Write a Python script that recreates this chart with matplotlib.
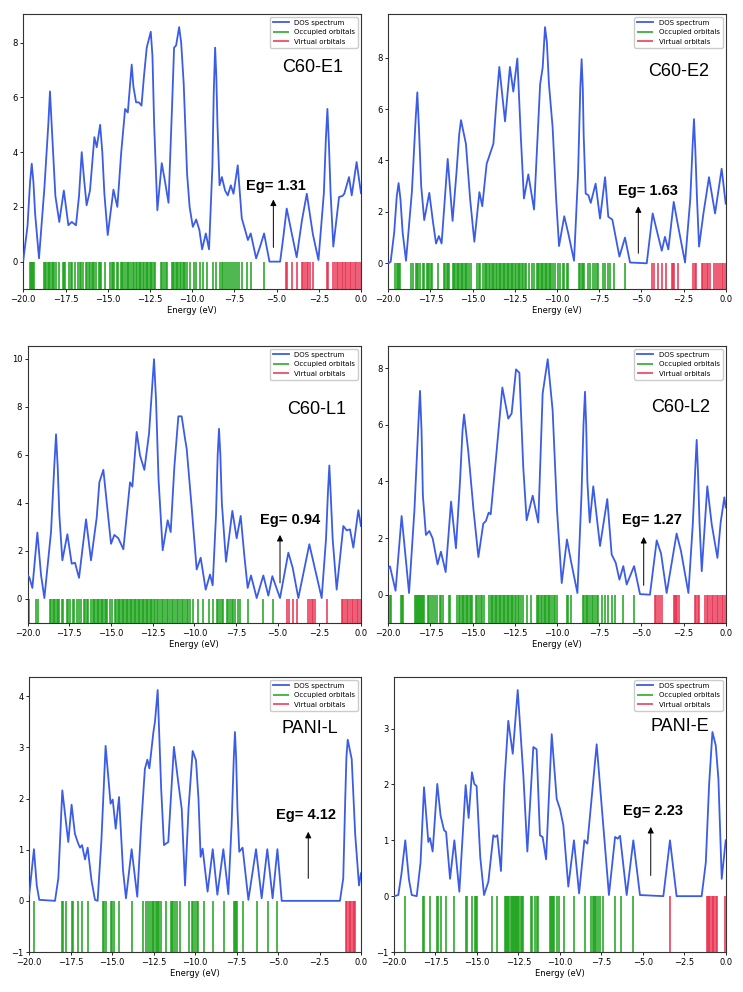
import matplotlib
matplotlib.use('Agg')
import matplotlib.pyplot as plt

# ---------------- data ----------------
# Panel C60-E1
e1_x = [-20.0, -19.75, -19.6, -19.5, -19.4, -19.3, -19.07, -18.75, -18.52, -18.42,
        -18.32, -18.1, -17.87, -17.6, -17.33, -17.13, -16.88, -16.7, -16.54, -16.4,
        -16.25, -16.05, -15.79, -15.65, -15.45, -15.32, -15.2, -15.0, -14.66, -14.43,
        -14.2, -13.97, -13.81, -13.66, -13.58, -13.48, -13.32, -13.15, -13.0, -12.85,
        -12.69, -12.45, -12.35, -12.25, -12.06, -11.8, -11.6, -11.4, -11.2, -11.07,
        -10.95, -10.77, -10.65, -10.5, -10.3, -10.15, -9.96, -9.76, -9.57, -9.41,
        -9.19, -9.0, -8.8, -8.72, -8.64, -8.57, -8.5, -8.38, -8.24, -8.05,
        -7.89, -7.71, -7.55, -7.3, -7.06, -6.86, -6.7, -6.53, -6.21, -5.95,
        -5.74, -5.42, -4.79, -4.6, -4.4, -4.14, -3.81, -3.5, -3.21, -2.85,
        -2.52, -2.2, -2.08, -1.99, -1.9, -1.8, -1.64, -1.3, -1.1, -0.99,
        -0.71, -0.55, -0.26, 0.0]
e1_y = [0.05, 1.3, 2.9, 3.58, 2.9, 1.75, 0.12, 2.7, 5.0, 6.22,
        5.0, 2.4, 1.45, 2.6, 1.33, 1.45, 1.33, 2.4, 4.0, 3.0,
        2.06, 2.6, 4.55, 4.18, 5.0, 4.0, 2.5, 0.97, 2.63, 2.0,
        4.0, 5.58, 5.45, 6.6, 7.2, 6.4, 5.82, 5.82, 5.7, 6.8,
        7.82, 8.4, 7.5, 5.0, 1.88, 3.6, 2.9, 2.15, 5.5, 7.82,
        7.9, 8.57, 8.0, 6.5, 3.2, 2.0, 1.27, 1.54, 1.15, 0.45,
        1.03, 0.45, 3.5, 6.2, 7.82, 6.8, 5.0, 2.79, 3.09, 2.6,
        2.42, 2.79, 2.48, 3.52, 1.58, 1.15, 0.79, 1.03, 0.12, 0.6,
        1.03, 0.0, 0.0, 0.9, 1.94, 1.15, 0.16, 1.5, 2.48, 1.0,
        0.06, 2.5, 4.5, 5.58, 4.3, 2.5, 0.55, 2.36, 2.4, 2.48,
        3.09, 2.42, 3.64, 2.5]
e1_occ = [-19.6, -19.55, -19.49, -19.43, -19.37, -18.79, -18.72, -18.64, -18.56, -18.48, -18.4, -18.32, -18.24,
          -18.16, -18.08, -17.9, -17.67, -17.59, -17.51, -17.31, -17.17, -17.09, -16.96, -16.78, -16.64, -16.56,
          -16.48, -16.26, -16.21, -16.13, -16.05, -15.95, -15.87, -15.79, -15.71, -15.53, -15.45, -15.4, -15.14,
          -14.84, -14.76, -14.68, -14.6, -14.47, -14.39, -14.23, -14.15, -14.07, -13.95, -13.87, -13.79, -13.72,
          -13.6, -13.52, -13.44, -13.32, -13.24, -13.16, -13.08, -13.0, -12.92, -12.84, -12.76, -12.68, -12.6,
          -12.52, -12.44, -12.36, -12.28, -12.21, -11.86, -11.78, -11.66, -11.56, -11.46, -11.21, -11.13, -11.05,
          -10.97, -10.89, -10.81, -10.73, -10.65, -10.57, -10.5, -10.42, -10.28, -10.12, -9.92, -9.76, -9.53,
          -9.37, -9.13, -8.74, -8.58, -8.38, -8.24, -8.15, -8.03, -7.91, -7.81, -7.71, -7.59, -7.48, -7.36, -7.2,
          -7.04, -6.77, -6.53, -5.72]
e1_vir = [-4.46, -4.36, -4.1, -3.81, -3.51, -3.41, -3.31, -3.21, -3.12, -3.02, -2.82, -2.03, -1.93, -1.64,
          -1.54, -1.44, -1.35, -1.25, -1.15, -1.05, -0.96, -0.86, -0.76, -0.66, -0.57, -0.47, -0.37, -0.27, -0.17,
          -0.08]

# Panel C60-E2
e2_x = [-20.0, -19.86, -19.65, -19.5, -19.39, -19.28, -19.15, -18.95, -18.6, -18.38,
        -18.28, -18.18, -18.05, -17.87, -17.57, -17.35, -17.17, -17.0, -16.84, -16.65,
        -16.48, -16.19, -15.95, -15.8, -15.69, -15.4, -15.15, -14.9, -14.6, -14.43,
        -14.17, -13.77, -13.6, -13.42, -13.08, -12.79, -12.59, -12.35, -12.15, -11.96,
        -11.7, -11.36, -11.0, -10.85, -10.71, -10.6, -10.48, -10.26, -10.05, -9.88,
        -9.57, -9.33, -8.99, -8.75, -8.62, -8.54, -8.47, -8.42, -8.3, -8.14,
        -8.0, -7.71, -7.45, -7.15, -6.96, -6.72, -6.3, -5.97, -5.67, -4.68,
        -4.33, -4.09, -3.79, -3.6, -3.4, -3.08, -2.85, -2.41, -2.1, -1.96,
        -1.88, -1.8, -1.7, -1.58, -1.32, -0.99, -0.63, -0.24, 0.0]
e2_y = [0.0, 0.06, 1.2, 2.6, 3.12, 2.5, 1.2, 0.1, 2.8, 5.6,
        6.65, 5.2, 3.0, 1.68, 2.74, 1.6, 0.77, 1.06, 0.77, 2.5,
        4.06, 1.65, 3.6, 5.0, 5.57, 4.65, 2.5, 0.84, 2.77, 2.22,
        3.87, 4.65, 6.2, 7.64, 5.52, 7.64, 6.68, 7.97, 5.0, 2.52,
        3.46, 2.09, 6.97, 7.61, 9.19, 8.6, 7.0, 5.29, 2.5, 0.67,
        1.83, 1.16, 0.1, 3.5, 6.8, 7.94, 6.8, 5.0, 2.71, 2.65,
        2.35, 3.1, 1.74, 3.35, 1.81, 1.7, 0.26, 1.0, 0.03, 0.0,
        1.94, 1.29, 0.49, 1.03, 0.54, 2.39, 1.55, 0.03, 2.5, 4.6,
        5.61, 4.4, 2.5, 0.65, 1.94, 3.35, 1.94, 3.68, 2.32]
e2_occ = [-19.58, -19.51, -19.43, -19.35, -19.29, -18.64, -18.56, -18.38, -18.3, -18.22, -18.14, -17.96, -17.89,
          -17.73, -17.65, -17.57, -17.49, -17.41, -17.04, -16.7, -16.62, -16.54, -16.46, -16.38, -16.19, -16.11,
          -16.03, -15.95, -15.87, -15.79, -15.71, -15.63, -15.55, -15.47, -15.39, -15.31, -15.24, -15.08, -14.72,
          -14.64, -14.57, -14.37, -14.29, -14.21, -14.13, -14.05, -13.97, -13.87, -13.79, -13.72, -13.62, -13.54,
          -13.46, -13.38, -13.3, -13.22, -13.14, -13.06, -12.98, -12.9, -12.82, -12.74, -12.66, -12.58, -12.5,
          -12.42, -12.34, -12.26, -12.18, -12.09, -12.0, -11.92, -11.84, -11.64, -11.46, -11.38, -11.21, -11.13,
          -11.05, -10.97, -10.89, -10.81, -10.73, -10.65, -10.57, -10.49, -10.41, -10.33, -10.25, -10.12, -9.92,
          -9.82, -9.66, -9.57, -9.43, -9.33, -8.7, -8.62, -8.54, -8.46, -8.38, -8.14, -8.04, -7.85, -7.75, -7.65,
          -7.55, -7.25, -7.15, -6.96, -6.86, -6.6, -5.97]
e2_vir = [-4.39, -4.27, -4.03, -3.79, -3.56, -3.2, -3.12, -3.04, -2.81, -1.92, -1.84, -1.76, -1.42, -1.32, -1.23,
          -1.13, -1.03, -0.93, -0.67, -0.55, -0.43, -0.34, -0.24, -0.14, -0.04]

# Panel C60-L1
l1_x = [-20.0, -19.9, -19.72, -19.42, -19.2, -19.0, -18.6, -18.4, -18.3, -18.2,
        -18.1, -17.92, -17.62, -17.36, -17.16, -16.92, -16.5, -16.2, -15.86, -15.7,
        -15.46, -15.0, -14.8, -14.56, -14.26, -13.86, -13.72, -13.46, -13.26, -13.0,
        -12.72, -12.42, -12.3, -12.15, -11.9, -11.6, -11.42, -11.2, -10.96, -10.76,
        -10.56, -10.46, -10.16, -9.86, -9.62, -9.32, -9.06, -8.9, -8.7, -8.6,
        -8.52, -8.44, -8.35, -8.1, -7.72, -7.46, -7.22, -7.0, -6.8, -6.6,
        -6.26, -5.86, -5.56, -5.32, -4.86, -4.36, -4.1, -3.76, -3.1, -2.36,
        -2.1, -1.98, -1.9, -1.82, -1.7, -1.46, -1.06, -0.86, -0.66, -0.46,
        -0.16, 0.0]
l1_y = [0.99, 0.9, 0.46, 2.77, 1.0, 0.04, 2.8, 5.6, 6.86, 5.5,
        3.5, 1.61, 2.7, 1.47, 1.51, 0.88, 3.32, 1.61, 3.39, 4.86,
        5.38, 2.3, 2.67, 2.53, 2.07, 4.86, 4.68, 6.96, 5.98, 5.38,
        6.89, 9.99, 8.3, 5.0, 2.03, 3.28, 2.79, 5.5, 7.61, 7.61,
        6.68, 6.26, 3.81, 1.23, 1.72, 0.39, 1.02, 0.57, 3.5, 6.0,
        7.09, 6.0, 4.0, 1.55, 3.67, 2.53, 3.46, 1.8, 0.46, 0.98,
        0.04, 0.98, 0.14, 0.95, 0.04, 1.93, 1.3, 0.04, 2.28, 0.04,
        2.5, 4.5, 5.56, 4.4, 2.5, 0.39, 3.04, 2.86, 2.9, 2.14,
        3.7, 3.04]
l1_occ = [-19.92, -19.5, -19.4, -18.66, -18.58, -18.5, -18.42, -18.34, -18.26, -18.18, -18.1, -17.96, -17.86,
          -17.66, -17.56, -17.46, -17.3, -17.22, -17.06, -16.9, -16.82, -16.62, -16.54, -16.46, -16.38, -16.22,
          -16.1, -16.02, -15.94, -15.86, -15.78, -15.7, -15.62, -15.54, -15.46, -15.38, -15.3, -15.22, -15.06,
          -14.96, -14.76, -14.68, -14.6, -14.52, -14.44, -14.36, -14.28, -14.2, -14.12, -14.04, -13.96, -13.88,
          -13.8, -13.72, -13.64, -13.56, -13.48, -13.4, -13.32, -13.24, -13.16, -13.08, -13.0, -12.92, -12.84,
          -12.76, -12.68, -12.6, -12.52, -12.44, -12.36, -12.26, -12.16, -12.06, -11.96, -11.86, -11.76, -11.66,
          -11.56, -11.46, -11.36, -11.26, -11.16, -11.06, -10.96, -10.86, -10.76, -10.66, -10.56, -10.46, -10.36,
          -10.26, -10.06, -9.76, -9.5, -9.1, -8.86, -8.66, -8.56, -8.46, -8.36, -8.26, -8.06, -7.96, -7.86,
          -7.76, -7.66, -7.56, -7.36, -7.26, -6.76, -5.86, -5.3]
l1_vir = [-4.42, -4.34, -4.06, -3.86, -3.16, -3.06, -2.96, -2.86, -2.76, -2.06, -1.16, -1.06, -0.96, -0.86, -0.76,
          -0.66, -0.56, -0.46, -0.36, -0.26, -0.16, -0.06]

# Panel C60-L2
l2_x = [-20.0, -19.9, -19.57, -19.21, -18.77, -18.45, -18.22, -18.12, -18.03, -17.95,
        -17.77, -17.57, -17.37, -17.08, -16.88, -16.6, -16.28, -15.99, -15.75, -15.6,
        -15.51, -15.26, -14.95, -14.66, -14.37, -14.21, -14.05, -13.93, -13.62, -13.24,
        -12.89, -12.69, -12.43, -12.23, -12.0, -11.8, -11.44, -11.11, -10.85, -10.55,
        -10.26, -10.0, -9.72, -9.41, -9.17, -8.79, -8.55, -8.43, -8.34, -8.27,
        -8.2, -8.06, -7.85, -7.45, -7.02, -6.76, -6.52, -6.3, -6.07, -5.87,
        -5.43, -5.08, -4.49, -4.09, -3.83, -3.5, -2.91, -2.65, -2.21, -1.95,
        -1.8, -1.72, -1.64, -1.55, -1.42, -1.09, -0.83, -0.49, -0.3, -0.08,
        0.0]
l2_y = [0.92, 1.0, 0.14, 2.78, 0.06, 3.0, 6.0, 7.2, 5.8, 3.5,
        2.11, 2.25, 1.99, 1.07, 1.52, 0.8, 3.29, 1.64, 4.0, 5.8,
        6.37, 5.07, 3.0, 1.33, 2.51, 2.61, 2.9, 2.84, 4.8, 7.32,
        6.22, 6.4, 7.96, 7.84, 4.5, 2.63, 3.5, 2.55, 7.11, 8.32,
        6.52, 3.0, 0.41, 1.95, 1.18, 0.06, 3.5, 6.0, 7.17, 6.0,
        4.0, 2.55, 3.83, 1.72, 3.38, 1.42, 1.13, 0.53, 1.01, 0.36,
        1.01, 0.02, 0.0, 1.92, 1.45, 0.06, 2.16, 1.54, 0.06, 2.5,
        4.5, 5.47, 4.3, 2.5, 0.83, 3.83, 2.49, 1.3, 2.55, 3.44,
        3.08]
l2_occ = [-19.9, -19.86, -19.25, -19.19, -19.13, -18.4, -18.34, -18.28, -18.22, -18.16, -18.1, -18.04, -17.98,
          -17.92, -17.86, -17.65, -17.57, -17.49, -17.33, -17.25, -17.13, -16.93, -16.85, -16.77, -16.43, -16.33,
          -15.9, -15.82, -15.74, -15.66, -15.58, -15.5, -15.42, -15.34, -15.26, -15.18, -15.1, -15.02, -14.82,
          -14.72, -14.62, -14.52, -14.42, -14.32, -14.02, -13.94, -13.86, -13.78, -13.7, -13.62, -13.54, -13.46,
          -13.38, -13.3, -13.22, -13.14, -13.06, -12.98, -12.9, -12.82, -12.74, -12.66, -12.58, -12.5, -12.42,
          -12.34, -12.26, -12.16, -11.99, -11.8, -11.56, -11.2, -11.12, -11.04, -10.96, -10.88, -10.8, -10.72,
          -10.64, -10.56, -10.48, -10.4, -10.32, -10.2, -10.12, -10.02, -9.43, -9.33, -9.17, -8.44, -8.38, -8.3,
          -8.22, -8.14, -8.04, -7.94, -7.85, -7.75, -7.65, -7.55, -7.35, -7.15, -6.96, -6.76, -6.56, -6.07, -5.41]
l2_vir = [-4.19, -4.11, -3.99, -3.87, -3.79, -3.06, -3.0, -2.92, -2.86, -2.77, -1.82, -1.74, -1.66, -1.58, -1.23,
          -1.13, -1.03, -0.91, -0.83, -0.73, -0.63, -0.53, -0.43, -0.34, -0.24, -0.14, -0.04]

# Panel PANI-L
pl_x = [-20.0, -19.72, -19.55, -19.4, -18.45, -18.25, -18.01, -17.65, -17.45, -17.25,
        -17.05, -16.94, -16.82, -16.64, -16.48, -16.25, -16.04, -15.88, -15.65, -15.4,
        -15.1, -14.97, -14.79, -14.59, -14.35, -14.17, -13.83, -13.49, -13.25, -13.03,
        -12.88, -12.76, -12.52, -12.42, -12.26, -12.05, -11.88, -11.62, -11.28, -11.02,
        -10.81, -10.61, -10.4, -10.15, -9.95, -9.8, -9.67, -9.55, -9.25, -8.94,
        -8.66, -8.3, -8.0, -7.8, -7.67, -7.6, -7.53, -7.45, -7.34, -7.14,
        -6.79, -6.33, -5.99, -5.65, -5.33, -5.04, -4.78, -1.27, -1.07, -0.95,
        -0.88, -0.8, -0.56, -0.35, -0.12, 0.0]
pl_y = [0.13, 1.01, 0.3, 0.02, 0.0, 0.44, 2.16, 1.15, 1.88, 1.31,
        1.12, 1.04, 1.09, 0.81, 1.04, 0.4, 0.02, 0.0, 1.2, 3.03,
        1.9, 1.98, 1.41, 2.03, 0.6, 0.05, 1.01, 0.08, 1.5, 2.58,
        2.76, 2.59, 3.29, 3.51, 4.12, 2.2, 1.09, 1.15, 3.01, 2.32,
        1.8, 0.3, 1.8, 2.93, 2.75, 2.0, 0.86, 1.02, 0.18, 1.01,
        0.12, 1.01, 0.13, 1.5, 2.8, 3.3, 2.8, 1.8, 0.96, 1.04,
        0.02, 1.01, 0.05, 1.01, 0.05, 1.01, 0.0, 0.0, 0.44, 2.0,
        2.8, 3.15, 2.77, 1.3, 0.3, 0.54]
pl_occ = [-19.72, -18.05, -17.99, -17.79, -17.45, -17.39, -17.09, -16.8, -16.46, -15.54, -15.48, -15.4, -15.08,
          -15.0, -14.9, -14.58, -13.79, -13.17, -12.99, -12.82, -12.72, -12.62, -12.52, -12.46, -12.38, -12.32,
          -12.24, -12.16, -12.06, -11.76, -11.48, -11.4, -11.32, -11.24, -11.12, -10.91, -10.37, -10.21, -10.11,
          -10.01, -9.91, -9.81, -9.47, -8.94, -8.26, -7.66, -7.6, -7.54, -7.5, -7.1, -6.29, -5.63, -5.04]
pl_vir = [-0.9, -0.82, -0.74, -0.66, -0.58, -0.5, -0.42, -0.34]

# Panel PANI-E
pe_x = [-20.0, -19.74, -19.55, -19.32, -19.1, -18.93, -18.63, -18.4, -18.19, -17.93,
        -17.83, -17.67, -17.39, -17.19, -16.98, -16.86, -16.62, -16.36, -16.06, -15.68,
        -15.5, -15.3, -15.16, -15.02, -14.8, -14.57, -14.31, -14.01, -13.9, -13.77,
        -13.55, -13.35, -13.11, -12.84, -12.54, -12.2, -11.96, -11.6, -11.4, -11.2,
        -11.04, -10.83, -10.49, -10.19, -9.99, -9.79, -9.49, -9.15, -8.84, -8.52,
        -8.34, -7.78, -7.48, -7.04, -6.67, -6.51, -6.37, -5.97, -5.57, -5.17,
        -3.76, -3.36, -2.96, -1.45, -1.2, -1.0, -0.8, -0.6, -0.44, -0.24,
        0.0]
pe_y = [0.0, 0.02, 0.4, 1.0, 0.3, 0.02, 0.0, 0.6, 1.95, 0.97,
        1.04, 0.8, 2.01, 1.44, 1.18, 1.15, 0.31, 1.0, 0.08, 1.99,
        1.4, 2.22, 2.01, 1.97, 0.7, 0.02, 0.26, 1.09, 1.06, 1.09,
        0.45, 2.0, 3.14, 2.55, 3.69, 2.16, 0.8, 2.67, 2.63, 1.09,
        1.06, 0.66, 2.9, 1.74, 1.56, 1.27, 0.17, 1.0, 0.05, 1.0,
        0.94, 2.72, 1.62, 0.02, 1.06, 1.03, 1.08, 0.02, 1.0, 0.02,
        0.0, 1.0, 0.0, 0.0, 0.6, 2.0, 2.94, 2.7, 2.1, 0.31,
        1.0]
pe_occ = [-19.32, -18.23, -18.17, -17.83, -17.43, -17.37, -17.17, -16.87, -16.36, -15.68, -15.62, -15.32, -15.12,
          -15.06, -15.0, -14.07, -13.81, -13.31, -13.25, -13.19, -13.11, -13.05, -12.97, -12.91, -12.85, -12.77,
          -12.71, -12.65, -12.57, -12.51, -12.45, -12.37, -12.31, -12.25, -11.74, -11.66, -11.5, -11.4, -11.3,
          -10.59, -10.53, -10.47, -10.41, -10.35, -10.19, -10.05, -9.73, -9.15, -8.48, -8.12, -7.98, -7.92, -7.86,
          -7.8, -7.72, -7.58, -7.38, -6.67, -6.33, -5.57]
pe_vir = [-3.36, -1.15, -1.09, -1.01, -0.93, -0.85, -0.77, -0.69, -0.61, -0.53, -0.05]

names = ['C60-E1', 'C60-E2', 'C60-L1', 'C60-L2', 'PANI-L', 'PANI-E']
gaps = ['Eg= 1.31', 'Eg= 1.63', 'Eg= 0.94', 'Eg= 1.27', 'Eg= 4.12', 'Eg= 2.23']
legend_labels = ['DOS spectrum', 'Occupied orbitals', 'Virtual orbitals']
xs = [e1_x, e2_x, l1_x, l2_x, pl_x, pe_x]
ys = [e1_y, e2_y, l1_y, l2_y, pl_y, pe_y]
occs = [e1_occ, e2_occ, l1_occ, l2_occ, pl_occ, pe_occ]
virs = [e1_vir, e2_vir, l1_vir, l2_vir, pl_vir, pe_vir]

# ---------------- layout (pixels: left, top, right, bottom) ----------------
W, H = 743, 992
boxes = [(23.3, 14, 361, 289), (388.3, 14, 725.7, 289),
         (27.7, 346, 361, 623), (388.3, 346, 725.7, 623),
         (29.3, 677, 361, 952), (394, 677, 725.7, 952)]
name_pos = [(-4.69, 7.09), (-4.62, 7.46), (-4.46, 7.9), (-4.43, 6.61), (-4.82, 3.37), (-4.52, 3.03)]
gap_pos = [(-6.8, 2.75), (-6.4, 2.81), (-6.06, 3.28), (-6.17, 2.63), (-5.15, 1.67), (-6.17, 1.52)]
arrow_pos = [(-5.19, 0.52, 2.27), (-5.18, 0.39, 2.22), (-4.86, 0.67, 2.67), (-4.86, 0.33, 2.04),
             (-3.18, 0.44, 1.35), (-4.52, 0.37, 1.24)]

BLUE = '#3b5ce6'
GREEN = '#1aa31a'
RED = '#e8304f'

fig = plt.figure(figsize=(W / 100, H / 100), dpi=100)

for i in range(6):
    l, t, r, b = boxes[i]
    ax = fig.add_axes([l / W, 1 - b / H, (r - l) / W, (b - t) / H])
    ax.plot(xs[i], ys[i], color=BLUE, lw=1.3, label=legend_labels[0], zorder=3,
            solid_joinstyle='round')
    ax.vlines(occs[i], -1, 0, color=GREEN, lw=1.1, label=legend_labels[1])
    ax.vlines(virs[i], -1, 0, color=RED, lw=1.1, label=legend_labels[2])
    ax.set_xlim(-20, 0)
    ymax = max(ys[i])
    ax.set_ylim(-1, ymax + 0.05 * (ymax + 1))
    ax.set_xlabel('Energy (eV)', fontsize=6, labelpad=2)
    ax.tick_params(labelsize=6, length=2.5, width=0.6, pad=1.5)
    for s in ax.spines.values():
        s.set_linewidth(0.8)
        s.set_color('#333333')
    ax.legend(loc='upper right', fontsize=5, handlelength=2.3, borderaxespad=0.45,
              labelspacing=0.5, framealpha=1, edgecolor='#cccccc', fancybox=True)
    ax.text(name_pos[i][0], name_pos[i][1], names[i], fontsize=13, family='Liberation Sans',
            ha='left', va='center')
    ax.text(gap_pos[i][0], gap_pos[i][1], gaps[i], fontsize=10.5, fontweight='bold',
            family='Liberation Sans', ha='left', va='center')
    ax.annotate('', xy=(arrow_pos[i][0], arrow_pos[i][2]), xytext=(arrow_pos[i][0], arrow_pos[i][1]),
                arrowprops=dict(arrowstyle='-|>', color='black', lw=0.7, mutation_scale=9,
                                shrinkA=0, shrinkB=0))

fig.savefig('out.png', dpi=100)
